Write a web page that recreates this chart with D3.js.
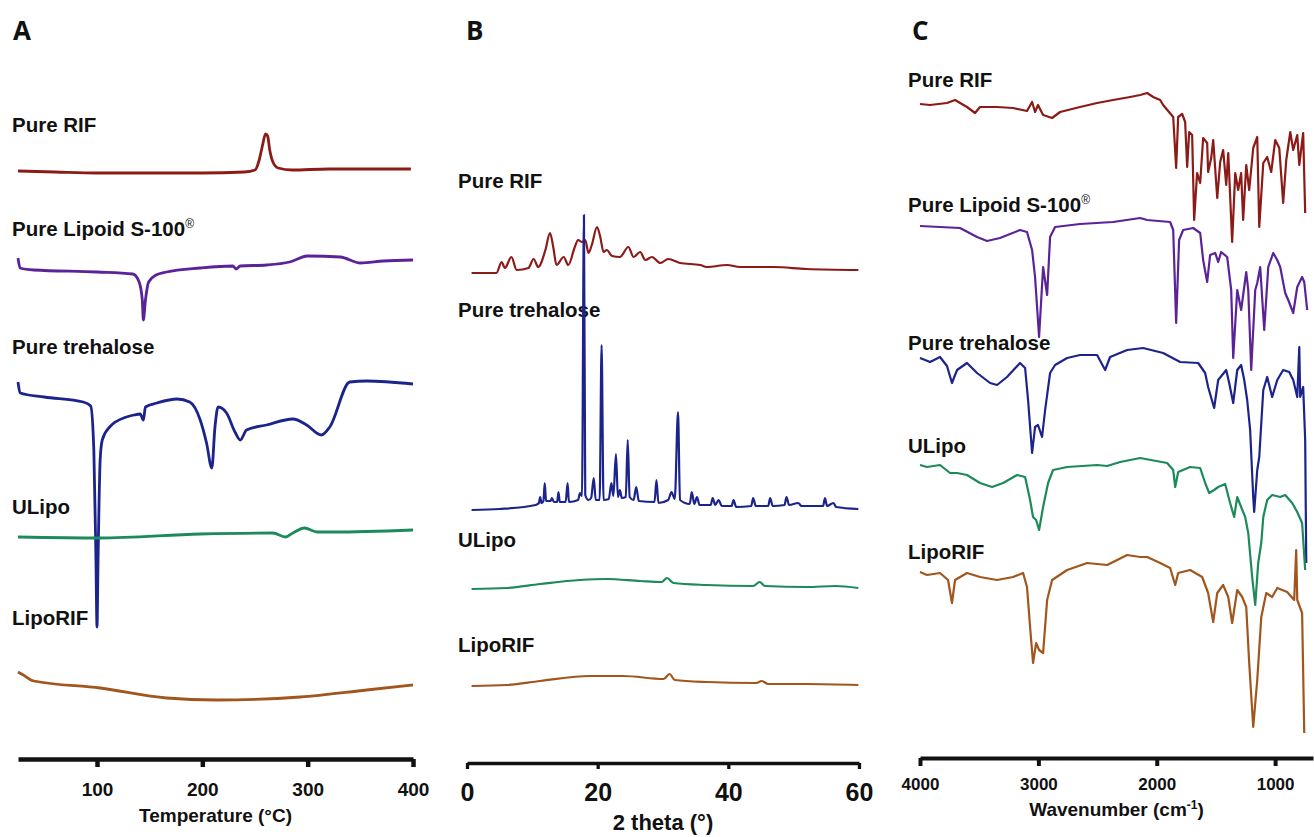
<!DOCTYPE html>
<html>
<head>
<meta charset="utf-8">
<script src="https://cdnjs.cloudflare.com/ajax/libs/d3/7.8.5/d3.min.js"></script>
<style>
body{margin:0;background:#fff;}
text{font-family:"Liberation Sans",Arial,Helvetica,sans-serif;font-weight:bold;fill:#111;}
</style>
</head>
<body>
<svg id="chart" width="1314" height="837"></svg>
<script>
// sample names + colours (same order in every panel)
var samples = ["Pure RIF", "Pure Lipoid S-100", "Pure trehalose", "ULipo", "LipoRIF"];
var colors = ["#8c1a17", "#5a2397", "#1c248c", "#1c8a5a", "#a0561c"];

var dscTicks = [100, 200, 300, 400];
var xrdTicks = [0, 20, 40, 60];
var irTicks = [4000, 3000, 2000, 1000];

// A - DSC [temperature, heat flow (a.u., stacked)]
var dscRIF = [[25,569],[60,568],[100,567],[150,567],[200,567],[240,568],[250,570],[254,580],[257,594],[260,606],[262,604],[264,590],[267,578],[272,572],[285,570],[320,571],[360,571],[398,571]];
var dscLipoid = [[25,482],[27,472],[40,470],[100,468],[134,466],[140,458],[143,440],[144,420],[146,440],[149,458],[156,465],[166,468],[198,472],[229,474],[232,471],[236,474],[261,475],[283,478],[300,484],[331,483],[350,477],[372,479],[400,480]];
var dscTrehalose = [[25,358],[27,347],[50,343],[87,338],[94,334],[97,290],[99,180],[100,113],[101,180],[103,280],[105,300],[112,313],[128,323],[135,325],[141,326],[144,320],[146,333],[157,337],[176,341],[188,338],[198,320],[204,297],[209,272],[212,313],[215,333],[223,327],[231,308],[236,300],[242,310],[261,315],[286,321],[299,315],[313,305],[321,313],[340,358],[356,359],[400,356]];
var dscULipo = [[25,203],[103,202],[198,206],[267,207],[279,203],[286,207],[297,212],[309,208],[324,208],[400,210]];
var dscLipoRIF = [[25,68],[30,65],[40,59],[103,52],[166,42],[213,40],[293,43],[356,50],[400,55]];

// B - XRD [2 theta, intensity (a.u., stacked)]
var xrdRIF = [[0.7,467],[4.5,467],[5.3,478],[5.8,472],[6.8,483],[7.6,470],[9.4,472],[10.2,481],[10.9,473],[12.0,490],[12.7,507],[13.2,493],[13.7,475],[14.8,483],[15.5,475],[16.5,493],[17.0,500],[17.6,498],[18.1,500],[18.6,487],[19.1,495],[19.9,513],[20.4,503],[20.9,488],[21.4,490],[22.2,484],[23.4,483],[24.7,493],[25.5,483],[26.5,488],[27.3,480],[28.3,483],[29.6,477],[30.8,481],[32.6,477],[35.7,475],[36.7,473],[39.8,475],[41.8,473],[46.9,473],[52.0,471],[59.9,470]];
var xrdTrehalose = [[0.7,230],[5,231],[10.5,235],[11.0,237],[11.2,243],[11.4,237],[11.7,239],[11.9,257],[12.1,239],[12.8,239],[13.0,242],[13.3,238],[13.8,238],[14.0,248],[14.2,238],[15.1,238],[15.4,257],[15.6,238],[17.0,240],[17.3,247],[17.6,244],[17.9,525],[18.1,245],[18.6,240],[19.0,242],[19.4,262],[19.7,240],[20.3,240],[20.6,395],[20.9,240],[21.7,241],[22.1,257],[22.4,244],[22.8,286],[23.1,243],[23.4,250],[23.7,242],[24.3,243],[24.6,300],[24.9,243],[25.5,240],[25.9,253],[26.3,239],[28.7,238],[29.0,260],[29.3,237],[30.8,240],[31.3,248],[31.8,241],[32.3,328],[32.6,240],[34.1,236],[34.4,248],[34.8,236],[35.2,243],[35.6,235],[37.3,235],[37.6,242],[38.0,235],[38.5,240],[39.0,234],[40.5,234],[40.8,240],[41.2,233],[43.5,234],[43.8,242],[44.2,234],[46.1,234],[46.4,242],[46.8,234],[48.6,235],[48.9,243],[49.3,235],[50.7,237],[51.2,234],[54.5,234],[54.8,242],[55.1,234],[56.1,237],[56.5,233],[59.9,231]];
var xrdULipo = [[0.7,151],[6.1,152],[11.2,156],[17.3,160],[21.4,161],[26.5,159],[29.8,158],[30.6,162],[31.6,157],[36.7,155],[43.8,154],[44.8,158],[45.6,154],[52.0,153],[56.4,154],[59.9,152]];
var xrdLipoRIF = [[0.7,54],[6.1,55],[11.2,59],[18.8,64],[23.9,64],[30.1,61],[31.0,66],[31.8,60],[36.7,58],[44.3,57],[45.1,59],[46.1,56],[52.0,56],[59.9,55]];

// C - FTIR [wavenumber, transmittance (a.u., stacked)]
var irRIF = [[4000,636],[3915,635],[3772,637],[3704,640],[3603,633],[3535,627],[3493,633],[3349,633],[3214,632],[3096,629],[3053,638],[3028,628],[3003,635],[2960,625],[2884,622],[2817,628],[2648,633],[2504,637],[2369,640],[2225,643],[2140,645],[2081,647],[2030,643],[1971,640],[1946,635],[1861,623],[1836,572],[1819,623],[1785,626],[1760,618],[1743,573],[1726,608],[1701,605],[1684,520],[1659,567],[1633,557],[1608,602],[1574,597],[1566,568],[1540,582],[1523,600],[1489,542],[1464,578],[1439,590],[1413,555],[1396,587],[1363,498],[1337,567],[1312,550],[1287,567],[1270,520],[1244,575],[1219,550],[1185,592],[1151,603],[1134,513],[1100,577],[1067,583],[1033,568],[999,600],[965,592],[932,537],[906,580],[872,608],[847,590],[813,605],[796,575],[763,607],[746,527]];
var irLipoid = [[4000,514],[3831,513],[3662,512],[3518,503],[3434,499],[3324,502],[3155,510],[3096,508],[3053,490],[3028,463],[2994,403],[2960,473],[2926,445],[2901,503],[2859,513],[2648,516],[2369,518],[2140,522],[2081,520],[1887,518],[1861,510],[1836,417],[1811,500],[1777,510],[1692,512],[1633,507],[1608,480],[1574,458],[1549,485],[1506,487],[1481,478],[1456,488],[1405,483],[1371,450],[1354,382],[1320,450],[1287,430],[1244,468],[1227,450],[1202,370],[1168,450],[1151,457],[1126,473],[1092,410],[1058,473],[1016,487],[982,480],[957,473],[915,447],[889,440],[847,427],[813,453],[772,463],[754,458],[729,430]];
var irTrehalose = [[4000,382],[3915,378],[3831,383],[3772,374],[3730,357],[3687,370],[3603,377],[3518,367],[3408,357],[3349,355],[3265,363],[3155,377],[3112,372],[3087,340],[3053,287],[3028,313],[3003,315],[2969,303],[2943,330],[2901,367],[2859,375],[2757,382],[2648,385],[2504,385],[2436,370],[2394,383],[2250,390],[2115,392],[1946,387],[1802,378],[1650,377],[1591,367],[1566,353],[1515,332],[1481,360],[1413,370],[1388,357],[1354,337],[1320,370],[1287,375],[1261,360],[1236,340],[1211,310],[1185,243],[1177,228],[1151,270],[1134,283],[1100,350],[1067,363],[1025,343],[982,360],[932,370],[881,368],[847,360],[813,343],[796,393],[788,343],[763,353],[746,300],[737,177]];
var irULipo = [[4000,275],[3941,273],[3831,275],[3746,267],[3687,267],[3603,265],[3493,257],[3391,253],[3298,257],[3180,265],[3112,263],[3070,240],[3045,223],[3019,220],[2994,210],[2960,233],[2918,257],[2876,270],[2757,273],[2504,275],[2419,274],[2309,278],[2140,282],[1912,277],[1861,270],[1844,253],[1819,268],[1718,273],[1633,272],[1591,257],[1557,247],[1515,250],[1481,253],[1422,256],[1380,237],[1346,223],[1320,243],[1287,233],[1253,223],[1227,207],[1194,163],[1168,135],[1143,177],[1117,197],[1100,223],[1067,240],[1025,245],[957,243],[915,245],[856,237],[813,228],[772,217],[746,170]];
var irLipoRIF = [[4000,168],[3941,165],[3831,167],[3763,160],[3730,137],[3704,160],[3603,167],[3493,163],[3349,160],[3214,163],[3129,167],[3096,153],[3070,113],[3045,77],[3019,97],[2994,90],[2960,87],[2926,140],[2884,160],[2757,170],[2588,177],[2419,175],[2250,185],[2140,183],[2081,183],[1971,177],[1887,172],[1844,155],[1819,167],[1718,170],[1616,163],[1566,147],[1523,118],[1489,147],[1439,155],[1396,143],[1363,117],[1320,150],[1278,143],[1244,133],[1219,77],[1185,13],[1151,60],[1117,123],[1075,147],[1025,143],[982,152],[898,148],[839,140],[822,190],[813,140],[772,127],[754,7]];

var svg = d3.select("#chart");

var panels = [
  {letter: "A", letterX: 13, xDomain: [25, 400], xRange: [18, 413], ticks: dscTicks,
   axisY: 759, axisW: 4.5, tickLen: 8, tickPad: 15.5, tickFont: 19,
   title: "Temperature (°C)", titleY: 822, titleFont: 19, lineW: 2.8, curve: d3.curveMonotoneX,
   labelX: 12, labelY: [132, 236, 354, 514, 625],
   series: [dscRIF, dscLipoid, dscTrehalose, dscULipo, dscLipoRIF], idx: [0,1,2,3,4]},
  {letter: "B", letterX: 466, xDomain: [0, 60], xRange: [467, 859], ticks: xrdTicks,
   axisY: 763, axisW: 3.3, tickLen: 6, tickPad: 14, tickFont: 25,
   title: "2 theta (°)", titleY: 830, titleFont: 22, lineW: 2.2, curve: d3.curveMonotoneX,
   labelX: 458, labelY: [188, 317, 547, 652],
   series: [xrdRIF, xrdTrehalose, xrdULipo, xrdLipoRIF], idx: [0,2,3,4]},
  {letter: "C", letterX: 912, xDomain: [4000, 680], xRange: [920, 1313], ticks: irTicks,
   axisY: 758, axisW: 4, tickLen: 8, tickPad: 12, tickFont: 17,
   title: "Wavenumber (cm", titleY: 816, titleFont: 19, lineW: 2.2, curve: d3.curveLinear,
   labelX: 908, labelY: [87, 212, 350, 453, 559],
   series: [irRIF, irLipoid, irTrehalose, irULipo, irLipoRIF], idx: [0,1,2,3,4]}
];

panels.forEach(function(p) {
  var x = d3.scaleLinear().domain(p.xDomain).range(p.xRange);
  var y = d3.scaleLinear().domain([0, 700]).range([740, 40]);

  svg.append("text")
    .attr("x", p.letterX).attr("y", 40)
    .style("font-family", "'Open Sans', sans-serif")
    .style("font-size", "26px")
    .text(p.letter);

  // sample labels
  p.idx.forEach(function(k, i) {
    var t = svg.append("text")
      .attr("x", p.labelX).attr("y", p.labelY[i])
      .style("font-size", "20.5px")
      .text(samples[k]);
    if (k == 1) {
      t.append("tspan").attr("dy", -8).style("font-size", "12px").style("font-weight", "normal").text("®");
    }
  });

  // traces
  var line = d3.line()
    .curve(p.curve)
    .x(function(d) { return x(d[0]); })
    .y(function(d) { return y(d[1]); });

  p.series.forEach(function(s, i) {
    svg.append("path")
      .datum(s)
      .attr("fill", "none")
      .attr("stroke", colors[p.idx[i]])
      .attr("stroke-width", p.lineW)
      .attr("stroke-linejoin", "round")
      .attr("d", line);
  });

  // x axis
  var xAxis = d3.axisBottom(x)
    .tickValues(p.ticks)
    .tickSizeInner(p.tickLen)
    .tickSizeOuter(0)
    .tickPadding(p.tickPad)
    .tickFormat(d3.format("d"));

  var g = svg.append("g")
    .attr("transform", "translate(0," + p.axisY + ")")
    .call(xAxis);
  g.select(".domain").attr("stroke", "#111").attr("stroke-width", p.axisW);
  g.selectAll(".tick line").attr("stroke", "#111").attr("stroke-width", p.axisW);
  g.selectAll(".tick text")
    .attr("fill", "#111")
    .style("font-family", "'Liberation Sans', Arial, sans-serif")
    .style("font-weight", "bold")
    .style("font-size", p.tickFont + "px");

  var title = svg.append("text")
    .attr("x", (p.xRange[0] + p.xRange[1]) / 2)
    .attr("y", p.titleY)
    .attr("text-anchor", "middle")
    .style("font-size", p.titleFont + "px")
    .text(p.title);
  if (p.letter == "C") {
    title.append("tspan").attr("dy", -7).style("font-size", "12px").text("-1");
    title.append("tspan").attr("dy", 7).text(")");
  }
});
</script>
</body>
</html>
